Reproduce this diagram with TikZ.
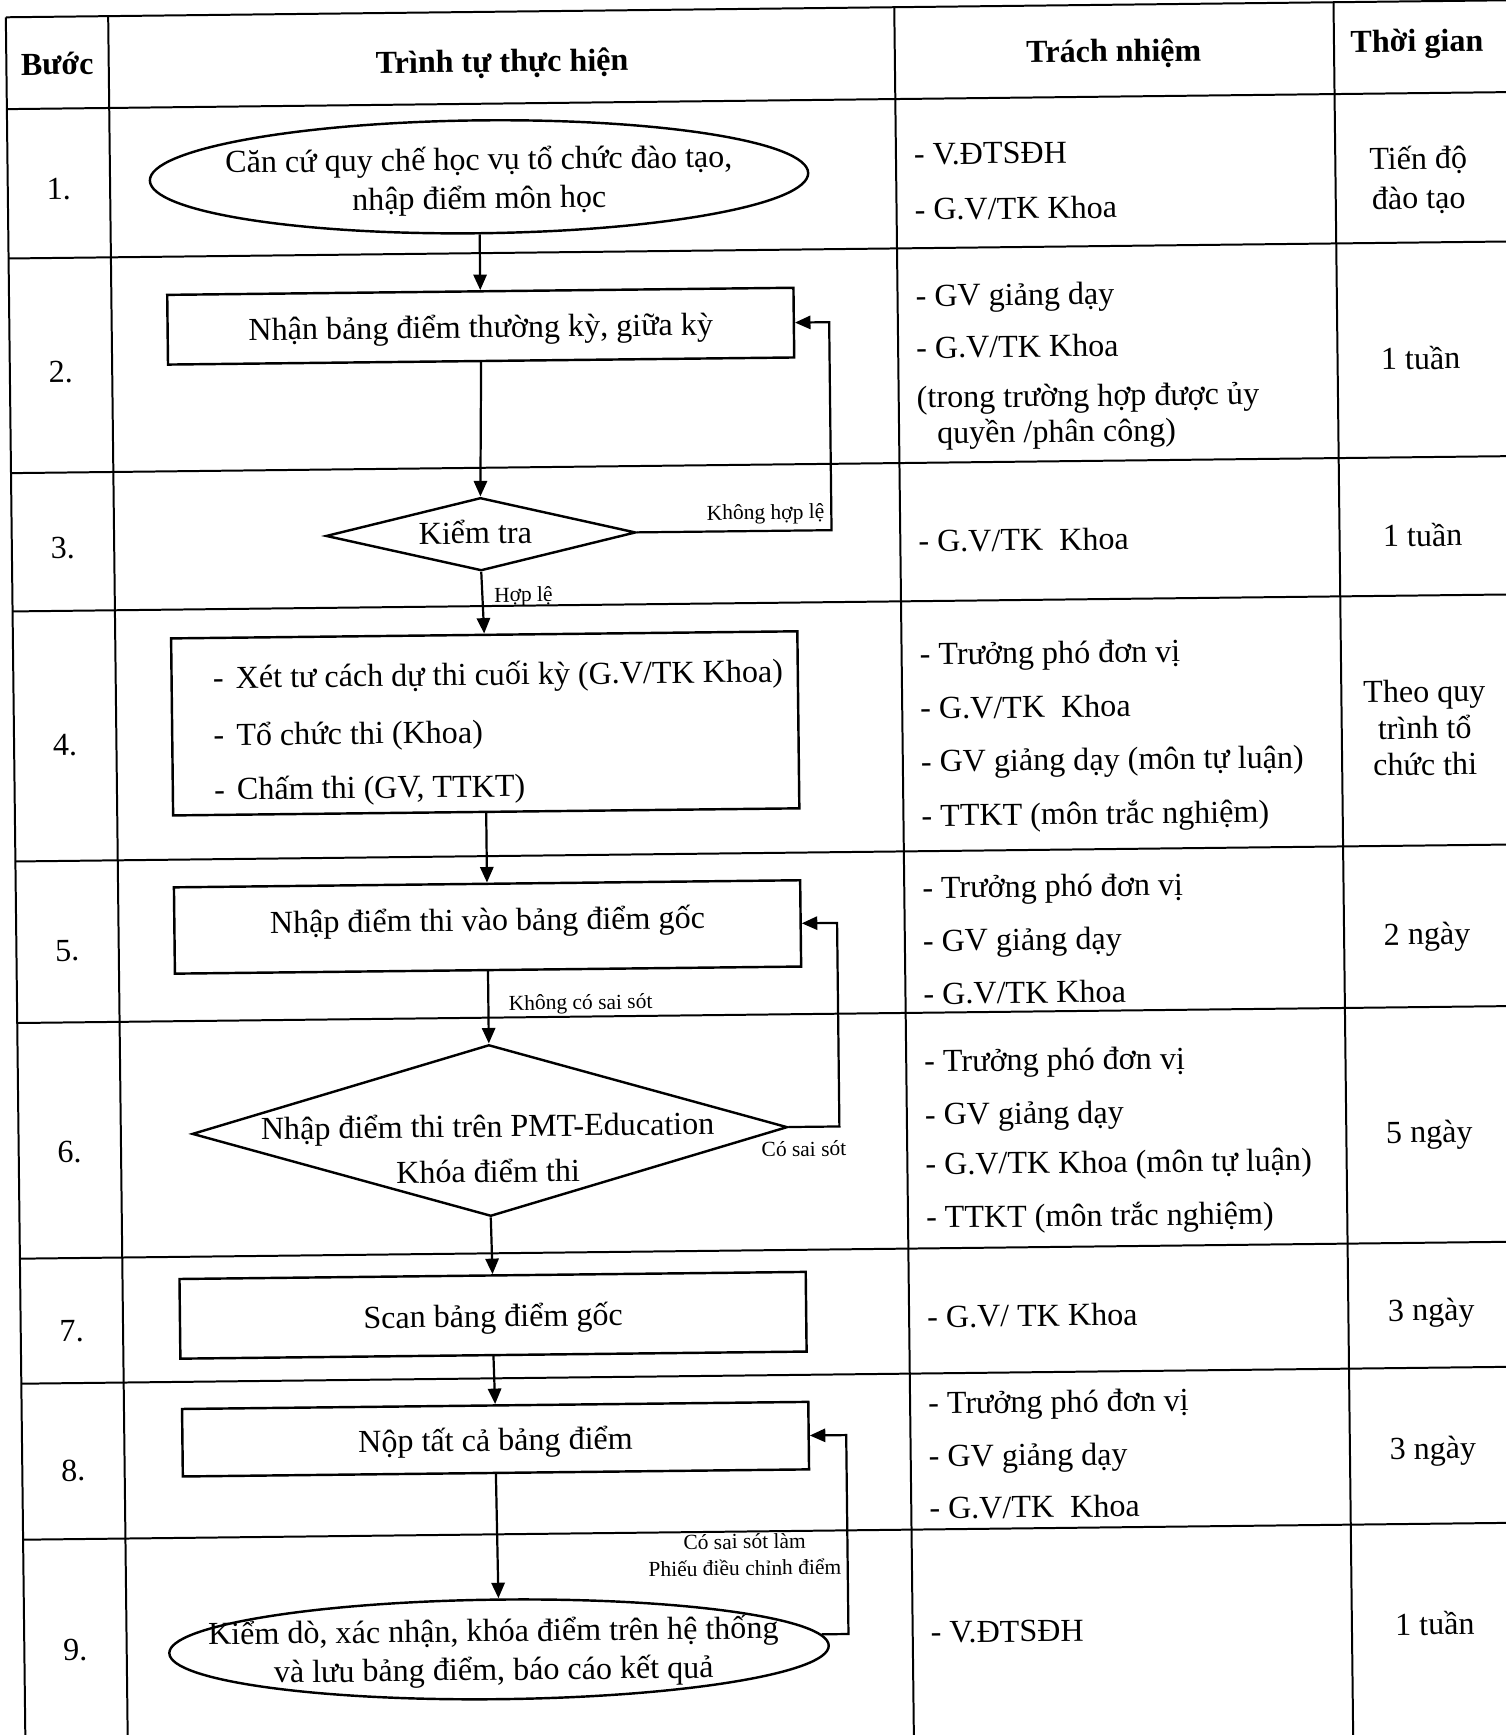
\documentclass[tikz,border=0pt]{standalone}
\usepackage{fontspec}
\setmainfont{Liberation Serif}
\usetikzlibrary{shapes.geometric,arrows.meta}
\newcommand\mainsz{\fontsize{14.5}{18}\selectfont}
\newcommand\lblsz{\fontsize{9.7}{12}\selectfont}
\begin{document}
\begin{tikzpicture}[x=0.5pt,y=-0.5pt,
  tl/.style={line width=0.9pt},
  sh/.style={draw, line width=1.1pt, inner sep=0pt},
  boxs/.style={sh, rectangle, minimum width=283pt, text height=12pt, text depth=1.5pt, font=\mainsz},
  ells/.style={sh, ellipse},
  dias/.style={sh, diamond},
  txt/.style={inner sep=0pt, text height=12pt, text depth=1.5pt, font=\mainsz},
  hdr/.style={txt, font=\mainsz\bfseries},
  rsp/.style={txt, anchor=west},
  mtxt/.style={inner sep=0pt, align=center},
  lbl/.style={inner sep=0pt, text height=8pt, text depth=0.5pt, font=\lblsz},
  arr/.style={line width=1pt, -{Triangle[length=7pt,width=6pt]}},
  loopl/.style={line width=1pt, -{Triangle[length=7pt,width=6pt]}}
]
\useasboundingbox (0,0) rectangle (1361,1568);
\clip (0,0) rectangle (1361,1568);
\begin{scope}[rotate around={0.65:(680,784)}, transform shape]
% ---------- table ----------
\foreach \v in {8,91,226,420,545,771,917,1130,1243,1384}
  \draw[tl] (14,\v) -- (1420,\v);
\foreach \u in {14,106.5,817,1214}
  \draw[tl] (\u,8) -- (\u,1640);
% headers
\node[hdr] (h1) at (60,50) {Bước};
\node[hdr] (h2) at (462,52) {Trình tự thực hiện};
\node[hdr] (h3) at (1015,49) {Trách nhiệm};
\node[hdr] (h4) at (1289,43) {Thời gian};
% step numbers
\node[txt] (s1) at (60,163) {1.};
\node[txt] (s2) at (60,328) {2.};
\node[txt] (s3) at (60,487) {3.};
\node[txt] (s4) at (60,665) {4.};
\node[txt] (s5) at (60,851) {5.};
\node[txt] (s6) at (60,1033) {6.};
\node[txt] (s7) at (60,1195) {7.};
\node[txt] (s8) at (60,1321) {8.};
\node[txt] (s9) at (60,1483) {9.};
% responsibilities
\node[rsp] (r1a) at (833,140) {- V.ĐTSĐH};
\node[rsp] (r1b) at (833,190) {- G.V/TK Khoa};
\node[rsp] (r2a) at (833,268) {- GV giảng dạy};
\node[rsp] (r2b) at (833,315) {- G.V/TK Khoa};
\node[rsp] (r2c) at (833,360) {(trong trường hợp được ủy};
\node[rsp] (r2d) at (851,392) {quyền /phân công)};
\node[rsp] (r3a) at (833,490) {- G.V/TK\ \ Khoa};
\node[rsp] (r4a) at (833,592) {- Trưởng phó đơn vị};
\node[rsp] (r4b) at (833,641) {- G.V/TK\ \ Khoa};
\node[rsp] (r4c) at (833,689) {- GV giảng dạy (môn tự luận)};
\node[rsp] (r4d) at (833,738) {- TTKT (môn trắc nghiệm)};
\node[rsp] (r5a) at (833,803) {- Trưởng phó đơn vị};
\node[rsp] (r5b) at (833,851) {- GV giảng dạy};
\node[rsp] (r5c) at (833,899) {- G.V/TK Khoa};
\node[rsp] (r6a) at (833,960) {- Trưởng phó đơn vị};
\node[rsp] (r6b) at (833,1008) {- GV giảng dạy};
\node[rsp] (r6c) at (833,1053) {- G.V/TK Khoa (môn tự luận)};
\node[rsp] (r6d) at (833,1101) {- TTKT (môn trắc nghiệm)};
\node[rsp] (r7a) at (833,1191) {- G.V/ TK Khoa};
\node[rsp] (r8a) at (833,1269) {- Trưởng phó đơn vị};
\node[rsp] (r8b) at (833,1317) {- GV giảng dạy};
\node[rsp] (r8c) at (833,1364) {- G.V/TK\ \ Khoa};
\node[rsp] (r9a) at (833,1476) {- V.ĐTSĐH};
% times
\node[txt] (t1a) at (1289,149) {Tiến độ};
\node[txt] (t1b) at (1289,185) {đào tạo};
\node[txt] (t2) at (1289,330) {1 tuần};
\node[txt] (t3) at (1289,490) {1 tuần};
\node[txt] (t4a) at (1289,631) {Theo quy};
\node[txt] (t4b) at (1289,664) {trình tổ};
\node[txt] (t4c) at (1289,697) {chức thi};
\node[txt] (t5) at (1289,850) {2 ngày};
\node[txt] (t6) at (1289,1029) {5 ngày};
\node[txt] (t7) at (1289,1190) {3 ngày};
\node[txt] (t8) at (1289,1315) {3 ngày};
\node[txt] (t9) at (1289,1474) {1 tuần};
% ---------- flowchart ----------
\node[ells, minimum width=297.5pt, minimum height=51pt] (n1) at (440,157) {};
\node[mtxt, font=\fontsize{14.5}{17.5}\selectfont] (n1t) at (440,161) {Căn cứ quy chế học vụ tổ chức đào tạo,\\nhập điểm môn học};
\node[boxs, minimum height=31.5pt] (n2) at (440,292) {Nhận bảng điểm thường kỳ, giữa kỳ};
\node[dias, minimum width=140pt, minimum height=33pt] (n3) at (438,480) {};
\node[txt] (n3t) at (433,478) {Kiểm tra};
\node[boxs, minimum height=80pt] (n4) at (440,651) {};
\node[rsp] (n4a) at (194,606) {-\hspace{5.5pt}Xét tư cách dự thi cuối kỳ (G.V/TK Khoa)};
\node[rsp] (n4b) at (194,658) {-\hspace{5.5pt}Tổ chức thi (Khoa)};
\node[rsp] (n4c) at (194,707) {-\hspace{5.5pt}Chấm thi (GV, TTKT)};
\node[boxs, minimum height=39pt] (n5) at (440,835) {\raisebox{3.5pt}{Nhập điểm thi vào bảng điểm gốc}};
\node[dias, minimum width=269pt, minimum height=77.5pt] (n6) at (440,1019) {};
\node[mtxt, font=\fontsize{14.5}{20.5}\selectfont] (n6t) at (438,1035) {Nhập điểm thi trên PMT-Education\\Khóa điểm thi};
\node[boxs, minimum height=36pt] (n7) at (441,1186) {Scan bảng điểm gốc};
\node[boxs, minimum height=30.5pt] (n8) at (442,1298) {Nộp tất cả bảng điểm};
\node[ells, minimum width=298pt, minimum height=45pt] (n9) at (443,1488) {};
\node[mtxt, font=\fontsize{14.5}{17.5}\selectfont] (n9t) at (438,1491) {Kiểm dò, xác nhận, khóa điểm trên hệ thống\\và lưu bảng điểm, báo cáo kết quả};
% connectors
\draw[arr] (n1.south) -- (n2.north);
\draw[arr] (n2.south) -- (n3.north);
\draw[arr] (n3.south) -- (n4.north);
\draw[arr] (n4.south) -- (n5.north);
\draw[arr] (n5.south) -- (n6.north);
\draw[arr] (n6.south) -- (n7.north);
\draw[arr] (n7.south) -- (n8.north);
\draw[arr] (n8.south) -- (n9.north);
\coordinate (k1) at (755,400);
\draw[loopl] (n3.east) -| (k1) |- (n2.east);
\coordinate (k2) at (756,930);
\draw[loopl] (n6.east) -| (k2) |- (n5.east);
\coordinate (k3) at (759,1400);
\draw[loopl] (n9.2) -| (k3) |- (n8.east);
% labels
\node[lbl, anchor=east] (l1) at (749,462) {Không hợp lệ};
\node[lbl, anchor=west] (l2) at (449,534) {Hợp lệ};
\node[lbl, anchor=west] (l3) at (458,903) {Không có sai sót};
\node[lbl, anchor=west] (l4) at (685,1038) {Có sai sót};
\node[mtxt, font=\lblsz] (l5) at (666,1405) {Có sai sót làm\\Phiếu điều chỉnh điểm};
\end{scope}
\end{tikzpicture}
\end{document}
